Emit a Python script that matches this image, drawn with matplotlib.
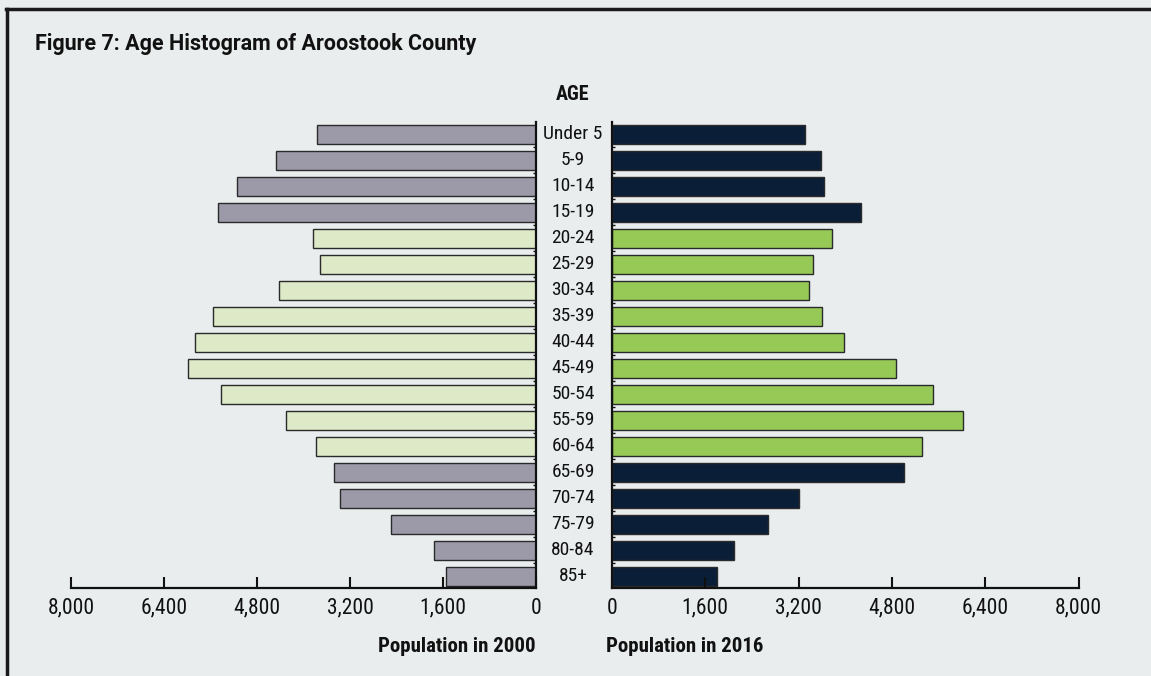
import matplotlib
matplotlib.use("Agg")
import matplotlib.pyplot as plt
import matplotlib.transforms as mtransforms
from matplotlib.lines import Line2D

# ---- data ----
age_groups = ["Under 5", "5-9", "10-14", "15-19", "20-24", "25-29", "30-34",
              "35-39", "40-44", "45-49", "50-54", "55-59", "60-64", "65-69",
              "70-74", "75-79", "80-84", "85+"]
pop_2000 = [3760, 4480, 5140, 5470, 3830, 3710, 4430, 5560, 5860, 5990,
            5420, 4300, 3790, 3480, 3380, 2500, 1750, 1540]
pop_2016 = [3310, 3590, 3640, 4270, 3770, 3440, 3380, 3610, 3980, 4870,
            5510, 6010, 5320, 5010, 3210, 2680, 2100, 1800]
working_age = [False, False, False, False, True, True, True, True, True, True,
               True, True, True, False, False, False, False, False]
tick_values = [0, 1600, 3200, 4800, 6400, 8000]
tick_labels = ["0", "1,600", "3,200", "4,800", "6,400", "8,000"]

title = "Figure 7: Age Histogram of Aroostook County"

# ---- style ----
BG = "#e9eded"
C_GRAY = "#9c9aa8"
C_LGREEN = "#dde9c7"
C_NAVY = "#0b1e37"
C_GREEN = "#97c957"
EDGE = "#2a2a2a"
TXT = "#111111"
NARROW = ["Roboto Condensed", "Archivo Narrow", "Liberation Sans Narrow", "Roboto", "DejaVu Sans"]
TITLEF = ["Roboto", "Liberation Sans", "DejaVu Sans"]

W, H = 1151, 676
fig = plt.figure(figsize=(W / 100, H / 100), dpi=100, facecolor=BG)

def fx(px):
    return px / W

def fy(py):
    return 1 - py / H

ax_top, ax_bot = 122, 588
axL = fig.add_axes([fx(71), fy(ax_bot), fx(536 - 71), (ax_bot - ax_top) / H])
axR = fig.add_axes([fx(611.7), fy(ax_bot), fx(1078.7 - 611.7), (ax_bot - ax_top) / H])

ypos = list(range(len(age_groups)))
colsL = [C_LGREEN if w else C_GRAY for w in working_age]
colsR = [C_GREEN if w else C_NAVY for w in working_age]

axL.barh(ypos, pop_2000, height=0.73, color=colsL, edgecolor=EDGE, linewidth=1.0)
axR.barh(ypos, pop_2016, height=0.73, color=colsR, edgecolor=EDGE, linewidth=1.0)

for ax in (axL, axR):
    ax.set_facecolor("none")
    ax.set_ylim(17.46, -0.48)
    ax.set_xticks(tick_values)
    ax.set_xticklabels(tick_labels, family=NARROW, fontsize=15.5, color=TXT)
    ax.tick_params(axis="x", direction="in", length=8, width=1.5, pad=7, color=TXT)
    ax.set_yticks([])
    ax.set_yticks([i + 0.5 for i in range(len(age_groups) - 1)], minor=True)
    for s in ax.spines.values():
        s.set_visible(False)
    ax.spines["bottom"].set_visible(True)
    ax.spines["bottom"].set_linewidth(1.6)
    ax.spines["bottom"].set_color(TXT)

axL.set_xlim(8000, 0)
axR.set_xlim(0, 8000)

axL.spines["right"].set_visible(True)
axL.spines["right"].set_linewidth(1.6)
axL.spines["right"].set_color(TXT)
axL.yaxis.tick_right()
axL.tick_params(axis="y", which="minor", direction="in", length=2, width=1, color=TXT)

axR.spines["left"].set_visible(True)
axR.spines["left"].set_linewidth(1.6)
axR.spines["left"].set_color(TXT)
axR.tick_params(axis="y", which="minor", direction="in", length=2, width=1, color=TXT)

# age labels in the middle
trans = mtransforms.blended_transform_factory(fig.transFigure, axR.transData)
for i, lab in enumerate(age_groups):
    fig.text(fx(573), i, lab, transform=trans, ha="center", va="center",
             family=NARROW, fontsize=14, color=TXT)

fig.text(fx(573), fy(95), "AGE", ha="center", va="center", family=NARROW,
         fontsize=14.5, fontweight="bold", color=TXT)

fig.text(fx(536), fy(647), "Population in 2000", ha="right", va="center",
         family=NARROW, fontsize=15, fontweight="bold", color=TXT)
fig.text(fx(606), fy(647), "Population in 2016", ha="left", va="center",
         family=NARROW, fontsize=15, fontweight="bold", color=TXT)

fig.text(fx(35), fy(44), title, ha="left", va="center",
         family=TITLEF, fontsize=15.5, fontweight="bold", color=TXT)

# frame lines (top and left)
fig.add_artist(Line2D([fx(6), 1], [fy(9), fy(9)], color="#1a1a1a", linewidth=2.5,
                      transform=fig.transFigure))
fig.add_artist(Line2D([fx(7), fx(7)], [fy(9), 0], color="#1a1a1a", linewidth=2.5,
                      transform=fig.transFigure))

fig.savefig("out.png", dpi=100, facecolor=BG)
